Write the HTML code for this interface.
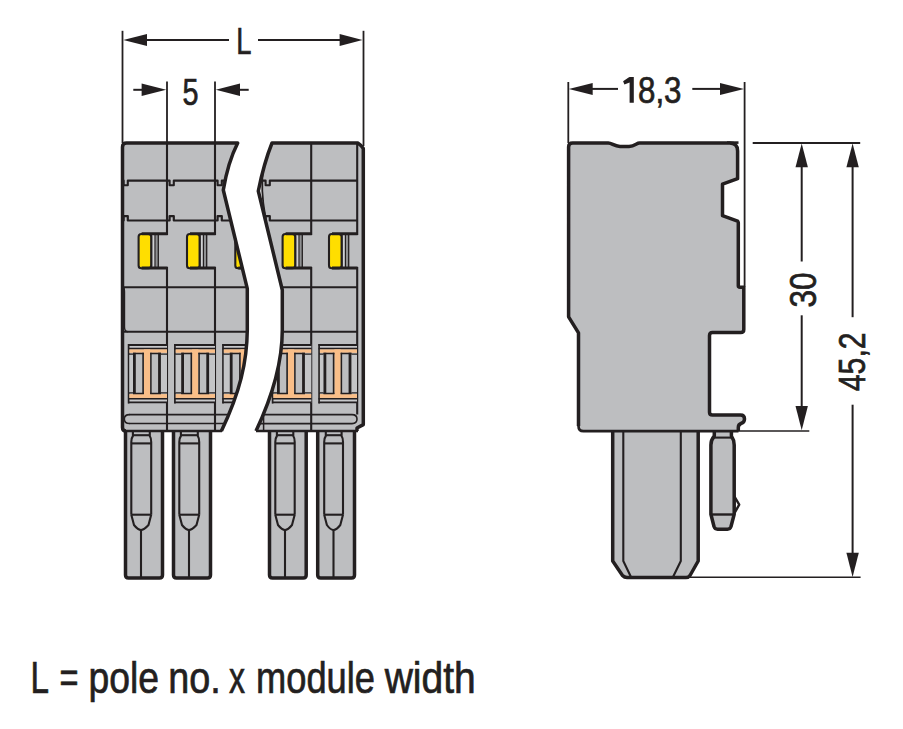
<!DOCTYPE html>
<html><head><meta charset="utf-8"><style>
html,body{margin:0;padding:0;background:#fff;}
svg{display:block;} path,line,rect{stroke-linejoin:round;}
text{font-family:"Liberation Sans",sans-serif;fill:#231f20;stroke:#231f20;stroke-width:0.7px;}
</style></head><body>
<svg width="903" height="729" viewBox="0 0 903 729">
<rect width="903" height="729" fill="#fff"/>
<defs><clipPath id="cl"><path d="M122.5,147 Q122.5,143 126.5,143 L237.7,143 Q228,162 223.3,190 L247.3,288.6 L247.3,330 C247,362 240,392 221.4,431 L126,431 Q122.5,431 122.5,427.5 Z"/></clipPath><clipPath id="cr"><path d="M272,143 L357.8,143 Q361,145 363.3,148.5 L363.3,424.6 L357,428 L357,431 L256,431 C273,395 282.3,362 282.3,330 L282.3,290 L258.3,191 Q264,163 272,143 Z"/></clipPath></defs>
<path d="M125.5,429 L125.5,575 Q125.5,578 128.5,578 L159.5,578 Q162.5,578 162.5,575 L162.5,429" fill="#bdbec0" stroke="#231f20" stroke-width="3.5" />
<path d="M132.9,431 L132.9,436 Q131.3,438 131.3,442 L131.3,514.7" fill="none" stroke="#231f20" stroke-width="2.1" />
<path d="M149.79999999999998,431 L149.79999999999998,436 Q151.2,438 151.2,442 L151.2,514.7" fill="none" stroke="#231f20" stroke-width="2.1" />
<line x1="132.9" y1="435.2" x2="149.79999999999998" y2="435.2" stroke="#231f20" stroke-width="2.1"/>
<line x1="131.3" y1="443.4" x2="151.2" y2="443.4" stroke="#231f20" stroke-width="2.1"/>
<line x1="131.3" y1="514.7" x2="151.2" y2="514.7" stroke="#231f20" stroke-width="2.1"/>
<path d="M131.3,514.7 L134.0,525 Q138,530 141,530 Q144,530 148.5,525 L151.2,514.7" fill="none" stroke="#231f20" stroke-width="2.1" />
<line x1="141" y1="530" x2="141" y2="577" stroke="#231f20" stroke-width="2.1"/>
<path d="M173.5,429 L173.5,575 Q173.5,578 176.5,578 L207.5,578 Q210.5,578 210.5,575 L210.5,429" fill="#bdbec0" stroke="#231f20" stroke-width="3.5" />
<path d="M180.9,431 L180.9,436 Q179.3,438 179.3,442 L179.3,514.7" fill="none" stroke="#231f20" stroke-width="2.1" />
<path d="M197.79999999999998,431 L197.79999999999998,436 Q199.2,438 199.2,442 L199.2,514.7" fill="none" stroke="#231f20" stroke-width="2.1" />
<line x1="180.9" y1="435.2" x2="197.79999999999998" y2="435.2" stroke="#231f20" stroke-width="2.1"/>
<line x1="179.3" y1="443.4" x2="199.2" y2="443.4" stroke="#231f20" stroke-width="2.1"/>
<line x1="179.3" y1="514.7" x2="199.2" y2="514.7" stroke="#231f20" stroke-width="2.1"/>
<path d="M179.3,514.7 L182.0,525 Q186,530 189,530 Q192,530 196.5,525 L199.2,514.7" fill="none" stroke="#231f20" stroke-width="2.1" />
<line x1="189" y1="530" x2="189" y2="577" stroke="#231f20" stroke-width="2.1"/>
<path d="M269.5,429 L269.5,575 Q269.5,578 272.5,578 L303.2,578 Q306.2,578 306.2,575 L306.2,429" fill="#bdbec0" stroke="#231f20" stroke-width="3.5" />
<path d="M276.90000000000003,431 L276.90000000000003,436 Q275.3,438 275.3,442 L275.3,514.7" fill="none" stroke="#231f20" stroke-width="2.1" />
<path d="M293.3,431 L293.3,436 Q294.7,438 294.7,442 L294.7,514.7" fill="none" stroke="#231f20" stroke-width="2.1" />
<line x1="276.90000000000003" y1="435.2" x2="293.3" y2="435.2" stroke="#231f20" stroke-width="2.1"/>
<line x1="275.3" y1="443.4" x2="294.7" y2="443.4" stroke="#231f20" stroke-width="2.1"/>
<line x1="275.3" y1="514.7" x2="294.7" y2="514.7" stroke="#231f20" stroke-width="2.1"/>
<path d="M275.3,514.7 L278.0,525 Q282,530 285,530 Q288,530 292.0,525 L294.7,514.7" fill="none" stroke="#231f20" stroke-width="2.1" />
<line x1="285" y1="530" x2="285" y2="577" stroke="#231f20" stroke-width="2.1"/>
<path d="M317.7,429 L317.7,575 Q317.7,578 320.7,578 L351.5,578 Q354.5,578 354.5,575 L354.5,429" fill="#bdbec0" stroke="#231f20" stroke-width="3.5" />
<path d="M325.8,431 L325.8,436 Q324.2,438 324.2,442 L324.2,514.7" fill="none" stroke="#231f20" stroke-width="2.1" />
<path d="M341.6,431 L341.6,436 Q343.0,438 343.0,442 L343.0,514.7" fill="none" stroke="#231f20" stroke-width="2.1" />
<line x1="325.8" y1="435.2" x2="341.6" y2="435.2" stroke="#231f20" stroke-width="2.1"/>
<line x1="324.2" y1="443.4" x2="343.0" y2="443.4" stroke="#231f20" stroke-width="2.1"/>
<line x1="324.2" y1="514.7" x2="343.0" y2="514.7" stroke="#231f20" stroke-width="2.1"/>
<path d="M324.2,514.7 L326.9,525 Q330.5,530 333.5,530 Q336.5,530 340.3,525 L343.0,514.7" fill="none" stroke="#231f20" stroke-width="2.1" />
<line x1="333.5" y1="530" x2="333.5" y2="577" stroke="#231f20" stroke-width="2.1"/>
<path d="M122.5,147 Q122.5,143 126.5,143 L237.7,143 Q228,162 223.3,190 L247.3,288.6 L247.3,330 C247,362 240,392 221.4,431 L126,431 Q122.5,431 122.5,427.5 Z" fill="#bdbec0" stroke="none" stroke-width="0" />
<path d="M272,143 L357.8,143 Q361,145 363.3,148.5 L363.3,424.6 L357,428 L357,431 L256,431 C273,395 282.3,362 282.3,330 L282.3,290 L258.3,191 Q264,163 272,143 Z" fill="#bdbec0" stroke="none" stroke-width="0" />
<g clip-path="url(#cl)">
<line x1="167" y1="143" x2="167" y2="431" stroke="#231f20" stroke-width="2.1"/>
<line x1="215" y1="143" x2="215" y2="431" stroke="#231f20" stroke-width="2.1"/>
<path d="M120,180.6 L123.6,180.6 L123.6,185.2 L127.8,185.2 L127.8,180.6 L169.6,180.6 L169.6,185.2 L173.79999999999998,185.2 L173.79999999999998,180.6 L217.6,180.6 L217.6,185.2 L221.79999999999998,185.2 L221.79999999999998,180.6 L250,180.6" fill="none" stroke="#231f20" stroke-width="2.1" />
<path d="M120,220.5 L123.6,220.5 L123.6,216.1 L127.8,216.1 L127.8,220.5 L169.6,220.5 L169.6,216.1 L173.79999999999998,216.1 L173.79999999999998,220.5 L217.6,220.5 L217.6,216.1 L221.79999999999998,216.1 L221.79999999999998,220.5 L250,220.5" fill="none" stroke="#231f20" stroke-width="2.2" />
<rect x="158.6" y="235" width="10.400000000000006" height="32" fill="#bdbec0"/>
<rect x="151.79999999999998" y="234.5" width="3" height="33.5" fill="#d0d1d3"/>
<rect x="155.4" y="234.5" width="2.6" height="33.5" fill="#8f9092"/>
<rect x="138.6" y="234" width="12.6" height="34.2" rx="2.8" fill="#ffde00" stroke="#231f20" stroke-width="2.1"/>
<line x1="151.6" y1="234" x2="151.6" y2="268" stroke="#231f20" stroke-width="1.3"/>
<line x1="155.0" y1="234" x2="155.0" y2="268" stroke="#231f20" stroke-width="1.2"/>
<line x1="158.29999999999998" y1="234" x2="158.29999999999998" y2="268" stroke="#231f20" stroke-width="1.3"/>
<line x1="141.6" y1="233.8" x2="167.6" y2="233.8" stroke="#231f20" stroke-width="3.0"/>
<line x1="141.6" y1="267.9" x2="167.6" y2="267.9" stroke="#231f20" stroke-width="3.0"/>
<rect x="207" y="235" width="10" height="32" fill="#bdbec0"/>
<rect x="200.2" y="234.5" width="3" height="33.5" fill="#d0d1d3"/>
<rect x="203.8" y="234.5" width="2.6" height="33.5" fill="#8f9092"/>
<rect x="187" y="234" width="12.6" height="34.2" rx="2.8" fill="#ffde00" stroke="#231f20" stroke-width="2.1"/>
<line x1="200.0" y1="234" x2="200.0" y2="268" stroke="#231f20" stroke-width="1.3"/>
<line x1="203.4" y1="234" x2="203.4" y2="268" stroke="#231f20" stroke-width="1.2"/>
<line x1="206.7" y1="234" x2="206.7" y2="268" stroke="#231f20" stroke-width="1.3"/>
<line x1="190" y1="233.8" x2="215.6" y2="233.8" stroke="#231f20" stroke-width="3.0"/>
<line x1="190" y1="267.9" x2="215.6" y2="267.9" stroke="#231f20" stroke-width="3.0"/>
<rect x="255.3" y="235" width="9.699999999999989" height="32" fill="#bdbec0"/>
<rect x="248.5" y="234.5" width="3" height="33.5" fill="#d0d1d3"/>
<rect x="252.10000000000002" y="234.5" width="2.6" height="33.5" fill="#8f9092"/>
<rect x="235.3" y="234" width="12.6" height="34.2" rx="2.8" fill="#ffde00" stroke="#231f20" stroke-width="2.1"/>
<line x1="248.3" y1="234" x2="248.3" y2="268" stroke="#231f20" stroke-width="1.3"/>
<line x1="251.70000000000002" y1="234" x2="251.70000000000002" y2="268" stroke="#231f20" stroke-width="1.2"/>
<line x1="255.0" y1="234" x2="255.0" y2="268" stroke="#231f20" stroke-width="1.3"/>
<line x1="238.3" y1="233.8" x2="263.6" y2="233.8" stroke="#231f20" stroke-width="3.0"/>
<line x1="238.3" y1="267.9" x2="263.6" y2="267.9" stroke="#231f20" stroke-width="3.0"/>
<line x1="122.5" y1="287.3" x2="250" y2="287.3" stroke="#231f20" stroke-width="2.1"/>
<line x1="122.5" y1="331.7" x2="250" y2="331.7" stroke="#231f20" stroke-width="2.1"/>
<path d="M124,287.3 Q124.5,290 124.5,292 L124.5,327 Q124.5,331.7 128,331.7" fill="none" stroke="#231f20" stroke-width="1.4" />
<rect x="128" y="344.5" width="39" height="58.5" fill="#bdbec0"/>
<rect x="129.2" y="346" width="37.8" height="1.8" fill="#c7c8ca"/>
<rect x="129.2" y="399.5" width="37.8" height="1.8" fill="#c7c8ca"/>
<line x1="128" y1="345" x2="167" y2="345" stroke="#231f20" stroke-width="1.9"/>
<line x1="128" y1="402.4" x2="167" y2="402.4" stroke="#231f20" stroke-width="1.9"/>
<line x1="128.6" y1="344" x2="128.6" y2="403.4" stroke="#231f20" stroke-width="1.7"/>
<line x1="128" y1="348.6" x2="167" y2="348.6" stroke="#231f20" stroke-width="1.6"/>
<line x1="128" y1="398.7" x2="167" y2="398.7" stroke="#231f20" stroke-width="1.6"/>
<rect x="129.4" y="349.4" width="37.6" height="3.4" fill="#f9be88"/>
<rect x="129.4" y="394.1" width="37.6" height="3.8" fill="#f9be88"/>
<rect x="143.9" y="349.4" width="6.3" height="48" fill="#f9be88"/>
<rect x="129.4" y="354.5" width="3.6" height="38.5" fill="#c4c5c7"/>
<rect x="161" y="354.5" width="6" height="38.5" fill="#c4c5c7"/>
<rect x="134.4" y="353.5" width="8.7" height="39.9" fill="#bdbec0"/>
<rect x="150.9" y="353.5" width="8.6" height="39.9" fill="#bdbec0"/>
<line x1="134.4" y1="352.8" x2="134.4" y2="394.1" stroke="#231f20" stroke-width="2.8"/>
<line x1="143.1" y1="352.8" x2="143.1" y2="394.1" stroke="#231f20" stroke-width="1.6"/>
<line x1="150.9" y1="352.8" x2="150.9" y2="394.1" stroke="#231f20" stroke-width="1.5"/>
<line x1="159.5" y1="352.8" x2="159.5" y2="394.1" stroke="#231f20" stroke-width="2.8"/>
<line x1="133" y1="353.5" x2="143.9" y2="353.5" stroke="#231f20" stroke-width="1.5"/>
<line x1="150.2" y1="353.5" x2="161" y2="353.5" stroke="#231f20" stroke-width="1.5"/>
<line x1="133" y1="393.4" x2="143.9" y2="393.4" stroke="#231f20" stroke-width="1.5"/>
<line x1="150.2" y1="393.4" x2="161" y2="393.4" stroke="#231f20" stroke-width="1.5"/>
<line x1="129" y1="354.2" x2="133" y2="354.2" stroke="#231f20" stroke-width="1.3"/>
<line x1="161" y1="354.2" x2="167" y2="354.2" stroke="#231f20" stroke-width="1.3"/>
<line x1="129" y1="392.8" x2="133" y2="392.8" stroke="#231f20" stroke-width="1.3"/>
<line x1="161" y1="392.8" x2="167" y2="392.8" stroke="#231f20" stroke-width="1.3"/>
<rect x="174.3" y="344.5" width="40.69999999999999" height="58.5" fill="#bdbec0"/>
<rect x="175.5" y="346" width="39.499999999999986" height="1.8" fill="#c7c8ca"/>
<rect x="175.5" y="399.5" width="39.499999999999986" height="1.8" fill="#c7c8ca"/>
<line x1="174.3" y1="345" x2="215" y2="345" stroke="#231f20" stroke-width="1.9"/>
<line x1="174.3" y1="402.4" x2="215" y2="402.4" stroke="#231f20" stroke-width="1.9"/>
<line x1="174.9" y1="344" x2="174.9" y2="403.4" stroke="#231f20" stroke-width="1.7"/>
<line x1="174.3" y1="348.6" x2="215" y2="348.6" stroke="#231f20" stroke-width="1.6"/>
<line x1="174.3" y1="398.7" x2="215" y2="398.7" stroke="#231f20" stroke-width="1.6"/>
<rect x="175.70000000000002" y="349.4" width="39.29999999999999" height="3.4" fill="#f9be88"/>
<rect x="175.70000000000002" y="394.1" width="39.29999999999999" height="3.8" fill="#f9be88"/>
<rect x="192.10000000000002" y="349.4" width="6.3" height="48" fill="#f9be88"/>
<rect x="175.70000000000002" y="354.5" width="5.5" height="38.5" fill="#c4c5c7"/>
<rect x="209.20000000000002" y="354.5" width="5.799999999999983" height="38.5" fill="#c4c5c7"/>
<rect x="182.60000000000002" y="353.5" width="8.7" height="39.9" fill="#bdbec0"/>
<rect x="199.10000000000002" y="353.5" width="8.6" height="39.9" fill="#bdbec0"/>
<line x1="182.60000000000002" y1="352.8" x2="182.60000000000002" y2="394.1" stroke="#231f20" stroke-width="2.8"/>
<line x1="191.3" y1="352.8" x2="191.3" y2="394.1" stroke="#231f20" stroke-width="1.6"/>
<line x1="199.10000000000002" y1="352.8" x2="199.10000000000002" y2="394.1" stroke="#231f20" stroke-width="1.5"/>
<line x1="207.70000000000002" y1="352.8" x2="207.70000000000002" y2="394.1" stroke="#231f20" stroke-width="2.8"/>
<line x1="181.20000000000002" y1="353.5" x2="192.10000000000002" y2="353.5" stroke="#231f20" stroke-width="1.5"/>
<line x1="198.4" y1="353.5" x2="209.20000000000002" y2="353.5" stroke="#231f20" stroke-width="1.5"/>
<line x1="181.20000000000002" y1="393.4" x2="192.10000000000002" y2="393.4" stroke="#231f20" stroke-width="1.5"/>
<line x1="198.4" y1="393.4" x2="209.20000000000002" y2="393.4" stroke="#231f20" stroke-width="1.5"/>
<line x1="175.3" y1="354.2" x2="181.20000000000002" y2="354.2" stroke="#231f20" stroke-width="1.3"/>
<line x1="209.20000000000002" y1="354.2" x2="215" y2="354.2" stroke="#231f20" stroke-width="1.3"/>
<line x1="175.3" y1="392.8" x2="181.20000000000002" y2="392.8" stroke="#231f20" stroke-width="1.3"/>
<line x1="209.20000000000002" y1="392.8" x2="215" y2="392.8" stroke="#231f20" stroke-width="1.3"/>
<rect x="222.4" y="344.5" width="40.599999999999994" height="58.5" fill="#bdbec0"/>
<rect x="223.6" y="346" width="39.39999999999999" height="1.8" fill="#c7c8ca"/>
<rect x="223.6" y="399.5" width="39.39999999999999" height="1.8" fill="#c7c8ca"/>
<line x1="222.4" y1="345" x2="263" y2="345" stroke="#231f20" stroke-width="1.9"/>
<line x1="222.4" y1="402.4" x2="263" y2="402.4" stroke="#231f20" stroke-width="1.9"/>
<line x1="223.0" y1="344" x2="223.0" y2="403.4" stroke="#231f20" stroke-width="1.7"/>
<line x1="222.4" y1="348.6" x2="263" y2="348.6" stroke="#231f20" stroke-width="1.6"/>
<line x1="222.4" y1="398.7" x2="263" y2="398.7" stroke="#231f20" stroke-width="1.6"/>
<rect x="223.8" y="349.4" width="39.199999999999996" height="3.4" fill="#f9be88"/>
<rect x="223.8" y="394.1" width="39.199999999999996" height="3.8" fill="#f9be88"/>
<rect x="240.70000000000002" y="349.4" width="6.3" height="48" fill="#f9be88"/>
<rect x="223.8" y="354.5" width="6.0" height="38.5" fill="#c4c5c7"/>
<rect x="257.8" y="354.5" width="5.199999999999989" height="38.5" fill="#c4c5c7"/>
<rect x="231.20000000000002" y="353.5" width="8.7" height="39.9" fill="#bdbec0"/>
<rect x="247.70000000000002" y="353.5" width="8.6" height="39.9" fill="#bdbec0"/>
<line x1="231.20000000000002" y1="352.8" x2="231.20000000000002" y2="394.1" stroke="#231f20" stroke-width="2.8"/>
<line x1="239.9" y1="352.8" x2="239.9" y2="394.1" stroke="#231f20" stroke-width="1.6"/>
<line x1="247.70000000000002" y1="352.8" x2="247.70000000000002" y2="394.1" stroke="#231f20" stroke-width="1.5"/>
<line x1="256.3" y1="352.8" x2="256.3" y2="394.1" stroke="#231f20" stroke-width="2.8"/>
<line x1="229.8" y1="353.5" x2="240.70000000000002" y2="353.5" stroke="#231f20" stroke-width="1.5"/>
<line x1="247.0" y1="353.5" x2="257.8" y2="353.5" stroke="#231f20" stroke-width="1.5"/>
<line x1="229.8" y1="393.4" x2="240.70000000000002" y2="393.4" stroke="#231f20" stroke-width="1.5"/>
<line x1="247.0" y1="393.4" x2="257.8" y2="393.4" stroke="#231f20" stroke-width="1.5"/>
<line x1="223.4" y1="354.2" x2="229.8" y2="354.2" stroke="#231f20" stroke-width="1.3"/>
<line x1="257.8" y1="354.2" x2="263" y2="354.2" stroke="#231f20" stroke-width="1.3"/>
<line x1="223.4" y1="392.8" x2="229.8" y2="392.8" stroke="#231f20" stroke-width="1.3"/>
<line x1="257.8" y1="392.8" x2="263" y2="392.8" stroke="#231f20" stroke-width="1.3"/>
<line x1="129" y1="414.6" x2="250" y2="414.6" stroke="#231f20" stroke-width="1.7"/>
<line x1="129" y1="423.5" x2="250" y2="423.5" stroke="#231f20" stroke-width="1.7"/>
<path d="M129.5,414.6 Q124.3,414.6 124.3,419 Q124.3,423.5 129.5,423.5" fill="none" stroke="#231f20" stroke-width="1.6" />
</g>
<path d="M126,431 Q122.5,431 122.5,427.5 L122.5,147 Q122.5,143 126.5,143 L237.7,143 Q228,162 223.3,190 L247.3,288.6 L247.3,330 C247,362 240,392 221.4,431" fill="none" stroke="#231f20" stroke-width="3.5" />
<line x1="124" y1="431" x2="222" y2="431" stroke="#231f20" stroke-width="2.5"/>
<g clip-path="url(#cr)">
<line x1="311.2" y1="143" x2="311.2" y2="431" stroke="#231f20" stroke-width="2.1"/>
<line x1="357.2" y1="143" x2="357.2" y2="414.6" stroke="#231f20" stroke-width="2.1"/>
<path d="M250,180.6 L265.6,180.6 L265.6,185.2 L269.8,185.2 L269.8,180.6 L357,180.6" fill="none" stroke="#231f20" stroke-width="2.1" />
<path d="M250,220.5 L265.6,220.5 L265.6,216.1 L269.8,216.1 L269.8,220.5 L357,220.5" fill="none" stroke="#231f20" stroke-width="2.2" />
<rect x="302.6" y="235" width="10.599999999999966" height="32" fill="#bdbec0"/>
<rect x="295.8" y="234.5" width="3" height="33.5" fill="#d0d1d3"/>
<rect x="299.40000000000003" y="234.5" width="2.6" height="33.5" fill="#8f9092"/>
<rect x="282.6" y="234" width="12.6" height="34.2" rx="2.8" fill="#ffde00" stroke="#231f20" stroke-width="2.1"/>
<line x1="295.6" y1="234" x2="295.6" y2="268" stroke="#231f20" stroke-width="1.3"/>
<line x1="299.0" y1="234" x2="299.0" y2="268" stroke="#231f20" stroke-width="1.2"/>
<line x1="302.3" y1="234" x2="302.3" y2="268" stroke="#231f20" stroke-width="1.3"/>
<line x1="285.6" y1="233.8" x2="311.8" y2="233.8" stroke="#231f20" stroke-width="3.0"/>
<line x1="285.6" y1="267.9" x2="311.8" y2="267.9" stroke="#231f20" stroke-width="3.0"/>
<rect x="349" y="235" width="10" height="32" fill="#bdbec0"/>
<rect x="342.2" y="234.5" width="3" height="33.5" fill="#d0d1d3"/>
<rect x="345.8" y="234.5" width="2.6" height="33.5" fill="#8f9092"/>
<rect x="329" y="234" width="12.6" height="34.2" rx="2.8" fill="#ffde00" stroke="#231f20" stroke-width="2.1"/>
<line x1="342.0" y1="234" x2="342.0" y2="268" stroke="#231f20" stroke-width="1.3"/>
<line x1="345.4" y1="234" x2="345.4" y2="268" stroke="#231f20" stroke-width="1.2"/>
<line x1="348.7" y1="234" x2="348.7" y2="268" stroke="#231f20" stroke-width="1.3"/>
<line x1="332" y1="233.8" x2="357.6" y2="233.8" stroke="#231f20" stroke-width="3.0"/>
<line x1="332" y1="267.9" x2="357.6" y2="267.9" stroke="#231f20" stroke-width="3.0"/>
<line x1="250" y1="287.3" x2="357" y2="287.3" stroke="#231f20" stroke-width="2.1"/>
<line x1="250" y1="331.7" x2="357" y2="331.7" stroke="#231f20" stroke-width="2.1"/>
<rect x="272" y="344.5" width="39.19999999999999" height="58.5" fill="#bdbec0"/>
<rect x="273.2" y="346" width="37.999999999999986" height="1.8" fill="#c7c8ca"/>
<rect x="273.2" y="399.5" width="37.999999999999986" height="1.8" fill="#c7c8ca"/>
<line x1="272" y1="345" x2="311.2" y2="345" stroke="#231f20" stroke-width="1.9"/>
<line x1="272" y1="402.4" x2="311.2" y2="402.4" stroke="#231f20" stroke-width="1.9"/>
<line x1="272.6" y1="344" x2="272.6" y2="403.4" stroke="#231f20" stroke-width="1.7"/>
<line x1="272" y1="348.6" x2="311.2" y2="348.6" stroke="#231f20" stroke-width="1.6"/>
<line x1="272" y1="398.7" x2="311.2" y2="398.7" stroke="#231f20" stroke-width="1.6"/>
<rect x="273.4" y="349.4" width="37.79999999999999" height="3.4" fill="#f9be88"/>
<rect x="273.4" y="394.1" width="37.79999999999999" height="3.8" fill="#f9be88"/>
<rect x="287.9" y="349.4" width="6.3" height="48" fill="#f9be88"/>
<rect x="273.4" y="354.5" width="3.6" height="38.5" fill="#c4c5c7"/>
<rect x="305" y="354.5" width="6.199999999999989" height="38.5" fill="#c4c5c7"/>
<rect x="278.4" y="353.5" width="8.7" height="39.9" fill="#bdbec0"/>
<rect x="294.9" y="353.5" width="8.6" height="39.9" fill="#bdbec0"/>
<line x1="278.4" y1="352.8" x2="278.4" y2="394.1" stroke="#231f20" stroke-width="2.8"/>
<line x1="287.1" y1="352.8" x2="287.1" y2="394.1" stroke="#231f20" stroke-width="1.6"/>
<line x1="294.9" y1="352.8" x2="294.9" y2="394.1" stroke="#231f20" stroke-width="1.5"/>
<line x1="303.5" y1="352.8" x2="303.5" y2="394.1" stroke="#231f20" stroke-width="2.8"/>
<line x1="277" y1="353.5" x2="287.9" y2="353.5" stroke="#231f20" stroke-width="1.5"/>
<line x1="294.2" y1="353.5" x2="305" y2="353.5" stroke="#231f20" stroke-width="1.5"/>
<line x1="277" y1="393.4" x2="287.9" y2="393.4" stroke="#231f20" stroke-width="1.5"/>
<line x1="294.2" y1="393.4" x2="305" y2="393.4" stroke="#231f20" stroke-width="1.5"/>
<line x1="273" y1="354.2" x2="277" y2="354.2" stroke="#231f20" stroke-width="1.3"/>
<line x1="305" y1="354.2" x2="311.2" y2="354.2" stroke="#231f20" stroke-width="1.3"/>
<line x1="273" y1="392.8" x2="277" y2="392.8" stroke="#231f20" stroke-width="1.3"/>
<line x1="305" y1="392.8" x2="311.2" y2="392.8" stroke="#231f20" stroke-width="1.3"/>
<rect x="318.5" y="344.5" width="38.5" height="58.5" fill="#bdbec0"/>
<rect x="319.7" y="346" width="37.3" height="1.8" fill="#c7c8ca"/>
<rect x="319.7" y="399.5" width="37.3" height="1.8" fill="#c7c8ca"/>
<line x1="318.5" y1="345" x2="357" y2="345" stroke="#231f20" stroke-width="1.9"/>
<line x1="318.5" y1="402.4" x2="357" y2="402.4" stroke="#231f20" stroke-width="1.9"/>
<line x1="319.1" y1="344" x2="319.1" y2="403.4" stroke="#231f20" stroke-width="1.7"/>
<line x1="318.5" y1="348.6" x2="357" y2="348.6" stroke="#231f20" stroke-width="1.6"/>
<line x1="318.5" y1="398.7" x2="357" y2="398.7" stroke="#231f20" stroke-width="1.6"/>
<rect x="319.9" y="349.4" width="37.1" height="3.4" fill="#f9be88"/>
<rect x="319.9" y="394.1" width="37.1" height="3.8" fill="#f9be88"/>
<rect x="334.4" y="349.4" width="6.3" height="48" fill="#f9be88"/>
<rect x="319.9" y="354.5" width="3.6" height="38.5" fill="#c4c5c7"/>
<rect x="351.5" y="354.5" width="5.5" height="38.5" fill="#c4c5c7"/>
<rect x="324.9" y="353.5" width="8.7" height="39.9" fill="#bdbec0"/>
<rect x="341.4" y="353.5" width="8.6" height="39.9" fill="#bdbec0"/>
<line x1="324.9" y1="352.8" x2="324.9" y2="394.1" stroke="#231f20" stroke-width="2.8"/>
<line x1="333.6" y1="352.8" x2="333.6" y2="394.1" stroke="#231f20" stroke-width="1.6"/>
<line x1="341.4" y1="352.8" x2="341.4" y2="394.1" stroke="#231f20" stroke-width="1.5"/>
<line x1="350.0" y1="352.8" x2="350.0" y2="394.1" stroke="#231f20" stroke-width="2.8"/>
<line x1="323.5" y1="353.5" x2="334.4" y2="353.5" stroke="#231f20" stroke-width="1.5"/>
<line x1="340.7" y1="353.5" x2="351.5" y2="353.5" stroke="#231f20" stroke-width="1.5"/>
<line x1="323.5" y1="393.4" x2="334.4" y2="393.4" stroke="#231f20" stroke-width="1.5"/>
<line x1="340.7" y1="393.4" x2="351.5" y2="393.4" stroke="#231f20" stroke-width="1.5"/>
<line x1="319.5" y1="354.2" x2="323.5" y2="354.2" stroke="#231f20" stroke-width="1.3"/>
<line x1="351.5" y1="354.2" x2="357" y2="354.2" stroke="#231f20" stroke-width="1.3"/>
<line x1="319.5" y1="392.8" x2="323.5" y2="392.8" stroke="#231f20" stroke-width="1.3"/>
<line x1="351.5" y1="392.8" x2="357" y2="392.8" stroke="#231f20" stroke-width="1.3"/>
<line x1="250" y1="414.6" x2="352" y2="414.6" stroke="#231f20" stroke-width="1.7"/>
<line x1="250" y1="423.6" x2="352" y2="423.6" stroke="#231f20" stroke-width="1.7"/>
<path d="M352,414.6 Q357,414.6 357,419 Q357,423.6 352,423.6" fill="none" stroke="#231f20" stroke-width="1.6" />
<path d="M263.2,168 Q260.4,190 265.2,216 L258.3,191 Z" fill="#f4f4f4"/>
<path d="M263.2,168 Q260.4,190 265.2,216" fill="none" stroke="#231f20" stroke-width="1.8" />
<line x1="263.6" y1="414.6" x2="263.6" y2="431" stroke="#231f20" stroke-width="1.5"/>
</g>
<path d="M256,431 C273,395 282.3,362 282.3,330 L282.3,290 L258.3,191 Q264,163 272,143 L357.8,143 Q361,145 363.3,148.5 L363.3,424.6 L357,428 L357,431" fill="none" stroke="#231f20" stroke-width="3.5" />
<line x1="256" y1="431" x2="358" y2="431" stroke="#231f20" stroke-width="2.5"/>
<line x1="122.5" y1="30.8" x2="122.5" y2="143" stroke="#231f20" stroke-width="1.8"/>
<line x1="363.5" y1="30.8" x2="363.5" y2="146" stroke="#231f20" stroke-width="1.8"/>
<line x1="147" y1="40" x2="229" y2="40" stroke="#231f20" stroke-width="2"/>
<line x1="258" y1="40" x2="340" y2="40" stroke="#231f20" stroke-width="2"/>
<polygon points="123.3,40 147,34 147,46" fill="#231f20"/>
<polygon points="362.5,40 339.6,34 339.6,46" fill="#231f20"/>
<line x1="167" y1="81.5" x2="167" y2="143" stroke="#231f20" stroke-width="1.8"/>
<line x1="215" y1="81.5" x2="215" y2="143" stroke="#231f20" stroke-width="1.8"/>
<line x1="133.3" y1="89.8" x2="142" y2="89.8" stroke="#231f20" stroke-width="2"/>
<line x1="240" y1="89.8" x2="248.7" y2="89.8" stroke="#231f20" stroke-width="2"/>
<polygon points="166.2,89.8 141.6,83.6 141.6,96.0" fill="#231f20"/>
<polygon points="215.8,89.8 240,83.6 240,96.0" fill="#231f20"/>
<path d="M612.7,429 L612.7,561 L622.5,575.5 Q624.4,577.5 627,577.5 L686,577.5 Q688.6,577.5 690,575.5 L698.2,561 L698.2,429" fill="#bdbec0" stroke="#231f20" stroke-width="3.5" />
<path d="M623.3,431 L623.3,561 L631,577" fill="none" stroke="#231f20" stroke-width="2.1" />
<path d="M680.8,431 L680.8,561 L673,577" fill="none" stroke="#231f20" stroke-width="2.1" />
<path d="M714.3,429 L714.3,436 Q710.9,440 710.9,445 L710.9,514.2 L714,526.5 Q715,529.2 717.5,529.2 L727.5,529.2 Q730,529.2 731,526.5 L734.2,514.2 L734.2,445 Q734.2,440 731.4,436 L731.4,429" fill="#bdbec0" stroke="#231f20" stroke-width="3.5" />
<line x1="714.3" y1="437.6" x2="731.4" y2="437.6" stroke="#231f20" stroke-width="2.1"/>
<line x1="710.9" y1="514.5" x2="734.2" y2="514.5" stroke="#231f20" stroke-width="2.4"/>
<path d="M734.2,496 L739.2,504.7 L734.6,513" fill="none" stroke="#231f20" stroke-width="2.4" />
<path d="M568.6,147 Q568.6,143 572.6,143 L608.3,143 C612,143 614,146.3 620,146.4 Q624.5,146.7 629,146.4 C635,146.3 636.5,143 639.5,143 L729.6,143 Q737.6,143 737.6,151 L737.6,178.7 L722.5,184.2 L722.5,215.7 L737.6,221.2 L738.3,222.5 L738.3,285.8 Q738.3,287.2 740,287.2 L743.8,287.2 L743.8,329.5 Q743.8,332.5 740.8,332.5 L712.5,332.5 Q709.5,332.5 709.5,335.5 L709.5,412.2 Q709.5,415 712.5,415 L740.5,415 Q744.5,415 744.5,419 Q744.5,422.5 741,423.5 Q738.3,424.5 738.3,427.5 L738.3,431 L583.5,431.2 Q578.5,431.2 578.5,426 L578.5,332.8 L568.6,316.8 Z" fill="#bdbec0" stroke="none" stroke-width="0" />
<path d="M578.5,426 L578.5,332.8 L568.6,316.8 L568.6,147 Q568.6,143 572.6,143 L608.3,143 C612,143 614,146.3 620,146.4 Q624.5,146.7 629,146.4 C635,146.3 636.5,143 639.5,143 L729.6,143 Q737.6,143 737.6,151 L737.6,178.7 L722.5,184.2 L722.5,215.7 L737.6,221.2 L738.3,222.5 L738.3,285.8 Q738.3,287.2 740,287.2 L743.8,287.2 L743.8,329.5 Q743.8,332.5 740.8,332.5 L712.5,332.5 Q709.5,332.5 709.5,335.5 L709.5,412.2 Q709.5,415 712.5,415 L740.5,415 Q744.5,415 744.5,419 Q744.5,422.5 741,423.5 Q738.3,424.5 738.3,427.5 L738.3,431" fill="none" stroke="#231f20" stroke-width="3.5" />
<path d="M578.5,425 L578.5,426 Q578.5,431.2 583.5,431.2 L738.5,431.2" fill="none" stroke="#231f20" stroke-width="2.7" />
<line x1="727" y1="142.6" x2="738.5" y2="142.6" stroke="#231f20" stroke-width="2.6"/>
<line x1="568.3" y1="82" x2="568.3" y2="143" stroke="#231f20" stroke-width="1.8"/>
<line x1="744.6" y1="82" x2="744.6" y2="287" stroke="#231f20" stroke-width="1.8"/>
<line x1="592" y1="88.9" x2="618" y2="88.9" stroke="#231f20" stroke-width="2"/>
<line x1="692.3" y1="88.9" x2="720.5" y2="88.9" stroke="#231f20" stroke-width="2"/>
<polygon points="568.8,88.9 592.7,82.9 592.7,94.9" fill="#231f20"/>
<polygon points="744,88.9 720,82.9 720,94.9" fill="#231f20"/>
<line x1="752.7" y1="143" x2="860.2" y2="143" stroke="#231f20" stroke-width="2"/>
<line x1="738" y1="431" x2="809.3" y2="431" stroke="#231f20" stroke-width="1.5"/>
<line x1="688" y1="577.2" x2="860.6" y2="577.2" stroke="#231f20" stroke-width="1.5"/>
<line x1="801.7" y1="167" x2="801.7" y2="261.5" stroke="#231f20" stroke-width="2"/>
<line x1="801.7" y1="315.3" x2="801.7" y2="406.5" stroke="#231f20" stroke-width="2"/>
<polygon points="801.7,143.5 795.5,167.2 807.9000000000001,167.2" fill="#231f20"/>
<polygon points="801.7,430.3 795.5,406 807.9000000000001,406" fill="#231f20"/>
<line x1="852.6" y1="167" x2="852.6" y2="317.2" stroke="#231f20" stroke-width="2"/>
<line x1="852.6" y1="404.7" x2="852.6" y2="553" stroke="#231f20" stroke-width="2"/>
<polygon points="852.6,143.5 846.4,167.2 858.8000000000001,167.2" fill="#231f20"/>
<polygon points="852.6,577 846.4,552.8 858.8000000000001,552.8" fill="#231f20"/>

<text x="236.2" y="53.8" font-size="36.5" textLength="15.2" lengthAdjust="spacingAndGlyphs">L</text>
<text x="182.5" y="104.5" font-size="36" textLength="16" lengthAdjust="spacingAndGlyphs">5</text>
<polygon points="629.6,76.9 633.8,76.9 633.8,102.8 629.6,102.8 629.6,82.6 624.4,84.4 623.1,81.2 628.6,77.6" fill="#231f20"/>
<text x="638" y="103" font-size="36.5" textLength="43.5" lengthAdjust="spacingAndGlyphs">8,3</text>
<text transform="translate(815.8,307.4) rotate(-90)" x="0" y="0" font-size="36.5" textLength="35" lengthAdjust="spacingAndGlyphs">30</text>
<text transform="translate(865.3,391.3) rotate(-90)" x="0" y="0" font-size="36.5" textLength="59" lengthAdjust="spacingAndGlyphs">45,2</text>
<text x="32" y="692.5" font-size="44"><tspan x="30.6" textLength="18.5" lengthAdjust="spacingAndGlyphs">L</tspan><tspan x="59.5" textLength="19" lengthAdjust="spacingAndGlyphs">=</tspan><tspan x="88.5" textLength="70.5" lengthAdjust="spacingAndGlyphs">pole</tspan><tspan x="168.3" textLength="52.5" lengthAdjust="spacingAndGlyphs">no.</tspan><tspan x="229" textLength="16" lengthAdjust="spacingAndGlyphs">x</tspan><tspan x="256" textLength="119" lengthAdjust="spacingAndGlyphs">module</tspan><tspan x="384.7" textLength="91" lengthAdjust="spacingAndGlyphs">width</tspan></text>

</svg>
</body></html>
